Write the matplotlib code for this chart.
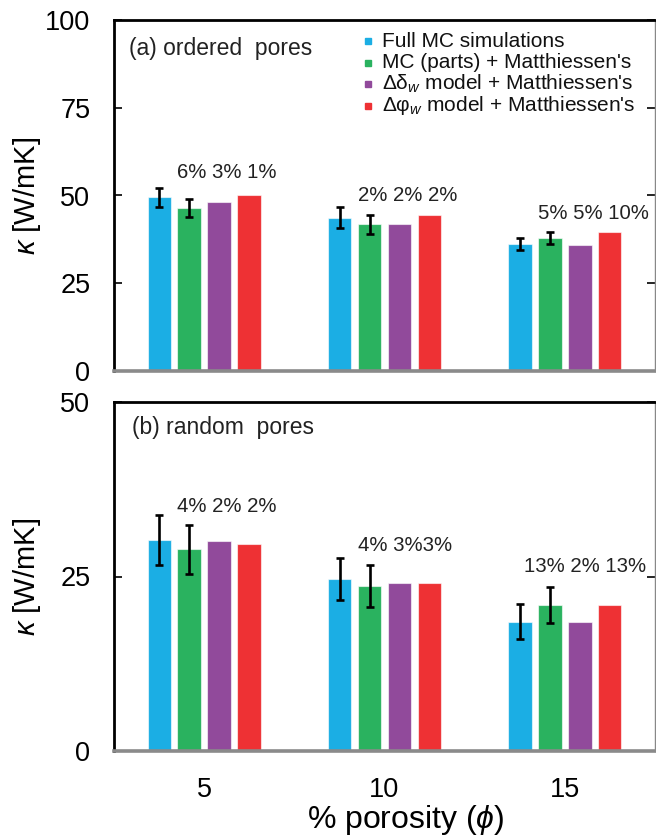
import matplotlib
matplotlib.use("Agg")
import matplotlib.pyplot as plt
import numpy as np

plt.rcParams['font.family'] = ['Liberation Sans', 'DejaVu Sans']
plt.rcParams['mathtext.fontset'] = 'custom'
plt.rcParams['mathtext.rm'] = 'Liberation Sans'
plt.rcParams['mathtext.it'] = 'Liberation Sans:italic'
plt.rcParams['mathtext.fallback'] = 'stix'

# ---------------- data ----------------
porosity = ["5", "10", "15"]
series_labels = ["Full MC simulations",
                 "MC (parts) + Matthiessen's",
                 "Δδ$_{w}$ model + Matthiessen's",
                 "Δφ$_{w}$ model + Matthiessen's"]
colors = ["#1BAEE4", "#2AB25F", "#914A9B", "#EE3134"]

# (a) ordered pores
a_full = [49.5, 43.6, 36.1]
a_full_err = [2.7, 3.0, 1.7]
a_parts = [46.5, 41.8, 37.9]
a_parts_err = [2.6, 2.7, 1.7]
a_delta = [48.1, 41.9, 35.9]
a_phi = [50.1, 44.5, 39.7]
a_pct = ["6% 3% 1%", "2% 2% 2%", "5% 5% 10%"]

# (b) random pores
b_full = [30.2, 24.6, 18.5]
b_full_err = [3.6, 3.0, 2.5]
b_parts = [28.9, 23.7, 20.9]
b_parts_err = [3.5, 3.0, 2.55]
b_delta = [30.1, 24.0, 18.5]
b_phi = [29.6, 24.0, 20.9]
b_pct = ["4% 2% 2%", "4% 3%3%", "13% 2% 13%"]

# ---------------- layout constants ----------------
a_pct_y = [56.5, 50.0, 44.9]
b_pct_y = [35.1, 29.5, 26.4]
b_pct_dx = [0.0, 0.0, -0.08]
bar_w = 0.13
step = 0.166

fig = plt.figure(figsize=(6.56, 8.36), dpi=100)
W, H = 656, 836
def rect(l, r, t, b):
    return [l / W, 1 - b / H, (r - l) / W, (b - t) / H]

ax_a = fig.add_axes(rect(114, 655, 20, 371))
ax_b = fig.add_axes(rect(114, 655, 402, 751))

x = np.arange(len(porosity))

def draw(ax, vals, errs, pct, pct_y, pct_dx, ymax, yticks, panel_text):
    for i, (v, c) in enumerate(zip(vals, colors)):
        xi = x + (i - 1.5) * step
        ax.bar(xi, v, width=bar_w, color=c, edgecolor=(1, 1, 1, 0.6),
               linewidth=0.8, zorder=2)
        if errs[i] is not None:
            ax.errorbar(xi, v, yerr=errs[i], fmt='none', ecolor='black',
                        elinewidth=1.9, capsize=3, capthick=1.9, zorder=3)
    for g in range(len(porosity)):
        xl = x[g] + (1 - 1.5) * step - bar_w / 2 + pct_dx[g]
        ax.text(xl, pct_y[g], pct[g], ha='left', va='center',
                fontsize=14.7, color='#222222', zorder=4)
    ax.set_xlim(-0.5, 2.5)
    ax.set_ylim(0, ymax)
    ax.set_yticks(yticks)
    ax.tick_params(axis='y', direction='in', length=6, width=1.2,
                   labelsize=19.5, pad=17, right=True, colors='black')
    ax.tick_params(axis='x', length=0, labelsize=19.5, pad=19)
    for s in ['top', 'left']:
        ax.spines[s].set_linewidth(2.0)
        ax.spines[s].set_color('black')
    ax.spines['right'].set_linewidth(1.0)
    ax.spines['right'].set_color('#888888')
    ax.spines['bottom'].set_linewidth(2.6)
    ax.spines['bottom'].set_color('#8a8a8a')
    ax.text(panel_text[1], panel_text[2], panel_text[0], transform=ax.transAxes,
            ha='left', va='center', fontsize=16.5, color='#222222')
    ax.set_ylabel(r"$\kappa$ [W/mK]", fontsize=21)
    ax.yaxis.set_label_coords(-0.132, 0.5)

draw(ax_a, [a_full, a_parts, a_delta, a_phi],
     [a_full_err, a_parts_err, None, None], a_pct, a_pct_y, [0, 0, 0],
     100, [0, 25, 50, 75, 100], ("(a) ordered  pores", 0.028, 0.920))
draw(ax_b, [b_full, b_parts, b_delta, b_phi],
     [b_full_err, b_parts_err, None, None], b_pct, b_pct_y, b_pct_dx,
     50, [0, 25, 50], ("(b) random  pores", 0.033, 0.928))

ax_a.set_xticks(x)
ax_a.set_xticklabels([])
ax_b.set_xticks(x)
ax_b.set_xticklabels(porosity)
ax_b.set_xlabel(r"% porosity ($\phi$)", fontsize=23)
ax_b.xaxis.set_label_coords(0.54, -0.148)

# legend (manual)
for i, (lab, c) in enumerate(zip(series_labels, colors)):
    yy = 0.940 - i * 0.0613
    ax_a.plot([0.4704], [yy], marker='s', ms=4.2, color=c, mec=c,
              transform=ax_a.transAxes, clip_on=False, zorder=5)
    ax_a.text(0.4954, yy, lab, transform=ax_a.transAxes, ha='left',
              va='center', fontsize=15, color='#111111')

fig.savefig("out.png", dpi=100)
